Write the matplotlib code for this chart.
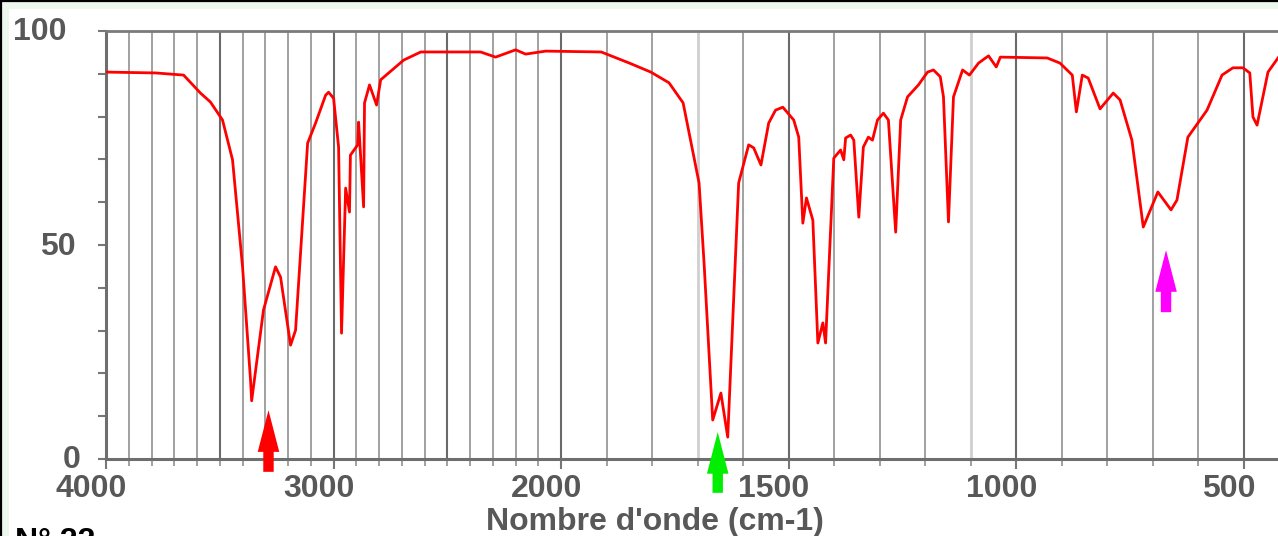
import numpy as np
import matplotlib
matplotlib.use("Agg")
import matplotlib.pyplot as plt
from matplotlib.ticker import FixedLocator, FixedFormatter, MultipleLocator
from matplotlib.transforms import ScaledTranslation
from matplotlib.lines import Line2D
from matplotlib.patches import Rectangle

# ---------------- data ----------------
wavenumber = [4000, 3782, 3659, 3585, 3541, 3488, 3444, 3400, 3365, 3360,
              3308, 3255, 3233, 3189, 3167, 3114, 3079, 3035, 3022, 3000,
              2978, 2965, 2947, 2930, 2926, 2894, 2890, 2868, 2864, 2842,
              2811, 2793, 2692, 2617, 2354, 2288, 2200, 2156, 2068, 1912,
              1850, 1803, 1763, 1732, 1697, 1686, 1667, 1649, 1634, 1610,
              1588, 1577, 1561, 1544, 1529, 1513, 1489, 1478, 1469, 1461,
              1447, 1436, 1425, 1419, 1401, 1386, 1379, 1375, 1364, 1357,
              1346, 1336, 1325, 1316, 1305, 1292, 1281, 1265, 1254, 1239,
              1215, 1195, 1182, 1167, 1160, 1149, 1138, 1118, 1103, 1083,
              1061, 1044, 1035, 932, 904, 877, 868, 855, 842, 816,
              787, 772, 746, 721, 689, 660, 647, 623, 581, 548,
              524, 502, 487, 480, 471, 447, 425]
transmittance = [90.4, 90.2, 89.7, 85.5, 83.4, 79.2, 69.9, 44.9, 18.5, 13.6,
                 34.8, 44.9, 42.5, 26.6, 30.1, 73.8, 78.5, 85.0, 85.7, 84.3,
                 72.9, 29.4, 63.3, 57.7, 71.0, 73.4, 78.7, 58.9, 83.2, 87.4,
                 82.7, 88.6, 93.2, 95.1, 95.1, 93.9, 95.6, 94.6, 95.3, 95.1,
                 92.5, 90.4, 87.9, 83.2, 64.5, 45.8, 9.1, 15.4, 5.1, 64.5,
                 73.4, 72.7, 68.7, 78.5, 81.5, 82.2, 79.2, 75.2, 55.1, 61.0,
                 55.8, 27.1, 31.8, 27.1, 70.3, 72.2, 69.9, 75.0, 75.7, 74.5,
                 56.5, 72.9, 75.2, 74.5, 79.2, 80.8, 79.2, 53.0, 79.2, 84.6,
                 87.4, 90.4, 90.9, 89.3, 84.6, 55.4, 84.6, 90.9, 89.7, 92.5,
                 94.2, 91.6, 93.9, 93.7, 92.5, 89.7, 81.1, 89.7, 89.0, 81.8,
                 85.5, 83.9, 74.5, 54.2, 62.4, 58.2, 60.5, 75.2, 81.5, 89.7,
                 91.4, 91.4, 90.2, 79.9, 78.0, 90.4, 93.7]

x_tick_values = [4000, 3000, 2000, 1500, 1000, 500]
x_tick_labels = ["4000", "3000", "2000", "1500", "1000", "500"]
y_tick_values = [100, 50, 0]
y_tick_labels = ["100", "50", "0"]
x_label = "Nombre d'onde (cm-1)"
corner_text = "N° 22"

# arrows: (wavenumber, tail value, tip value, colour)
arrow_wavenumbers = [3286, 1656, 671]
arrow_tails = [-3.0, -7.9, 34.3]
arrow_tips = [11.4, 6.3, 48.8]
arrow_colors = ["#ff0000", "#00ee00", "#ff00ff"]

# ---------------- figure ----------------
W, H = 1278, 536
fig = plt.figure(figsize=(W / 100, H / 100), dpi=100)
fig.patch.set_facecolor("white")

ax_left, ax_right, ax_top, ax_bottom = 106, 1278, 31, 459
ax = fig.add_axes([ax_left / W, 1 - ax_bottom / H,
                   (ax_right - ax_left) / W, (ax_bottom - ax_top) / H])


# piecewise-linear wavenumber scale (half scale above 2000 cm-1)
def fwd(w):
    w = np.asarray(w, dtype=float)
    return np.where(w >= 2000, 1000 + w / 2.0, w)


def inv(u):
    u = np.asarray(u, dtype=float)
    return np.where(u >= 2000, 2.0 * (u - 1000), u)


ax.set_xscale("function", functions=(fwd, inv))
ax.set_xlim(4000, 425)
ax.set_ylim(0, 100)

# grid lines
minor_x = list(range(500, 4000, 100))
ax.xaxis.set_major_locator(FixedLocator(x_tick_values))
ax.xaxis.set_major_formatter(FixedFormatter(x_tick_labels))
ax.xaxis.set_minor_locator(FixedLocator([m for m in minor_x if m not in x_tick_values]))
for m in minor_x + [4000]:
    if m in (1700, 1100):
        c, lw = "#cfcfcf", 2.0
    elif m % 500 == 0:
        c, lw = "#6a6a6a", 1.5
    else:
        c, lw = "#9a9a9a", 1.3
    ax.axvline(m, color=c, lw=lw, zorder=1)

ax.plot(wavenumber, transmittance, color="#ff0000", lw=2.0, zorder=3,
        solid_joinstyle="round")

# y ticks
ax.yaxis.set_major_locator(FixedLocator(y_tick_values))
ax.yaxis.set_minor_locator(MultipleLocator(10))
ax.set_yticklabels([])

label_color = "#585858"
FS = 23
font = dict(family="Liberation Sans", weight="bold", size=FS, color=label_color)

# y labels (positions as in reference)
fig.text(13 / W, 1 - 32 / H, y_tick_labels[0], ha="left", va="center", **font)
fig.text(76 / W, 1 - 247 / H, y_tick_labels[1], ha="right", va="center", **font)
fig.text(81 / W, 1 - 460 / H, y_tick_labels[2], ha="right", va="center", **font)

# x tick labels
ax.tick_params(axis="x", which="major", direction="out", length=7, width=1.5,
               color="#777777", pad=4, labelsize=FS, labelcolor=label_color)
ax.tick_params(axis="x", which="minor", direction="out", length=5, width=1.3,
               color="#999999")
ax.tick_params(axis="y", which="both", direction="out", length=6, width=1.5,
               color="#777777")
for lab in ax.get_xticklabels():
    lab.set_fontfamily("Liberation Sans")
    lab.set_fontweight("bold")
    lab.set_transform(lab.get_transform() + ScaledTranslation(-15 / 100, 0, fig.dpi_scale_trans))

ax.set_xlabel(x_label, fontfamily="Liberation Sans", fontweight="bold",
              fontsize=FS, color=label_color, labelpad=0)
ax.xaxis.set_label_coords((655 - ax_left) / (ax_right - ax_left), (459 - 522) / 428)
ax.xaxis.label.set_va("center")

# spines
for s in ("left", "bottom"):
    ax.spines[s].set_color("#6e6e6e")
    ax.spines[s].set_linewidth(2.2)
ax.spines["top"].set_color("#7a7a7a")
ax.spines["top"].set_linewidth(2.0)
ax.spines["right"].set_visible(False)

# arrows
for w, t0, t1, c in zip(arrow_wavenumbers, arrow_tails, arrow_tips, arrow_colors):
    ax.annotate("", xy=(w, t1), xytext=(w, t0), xycoords="data",
                textcoords="data", annotation_clip=False,
                arrowprops=dict(arrowstyle="simple,head_length=30,head_width=15.5,tail_width=7.5",
                                mutation_scale=1, color=c, shrinkA=0, shrinkB=0,
                                lw=0), zorder=5)

# corner text (cut off at the bottom of the picture, as in the reference)
fig.text(15 / W, 1 - 527 / H, corner_text, ha="left", va="top",
         family="Liberation Sans", weight="bold", size=FS, color="black")

# screenshot frame: black top/left lines and a pale green strip
fig.add_artist(Rectangle((0, 1 - 9 / H), 1, 7 / H, transform=fig.transFigure,
                         facecolor="#eef7ee", edgecolor="none", zorder=-1))
fig.add_artist(Rectangle((2 / W, 0), 7 / W, 1, transform=fig.transFigure,
                         facecolor="#eef7ee", edgecolor="none", zorder=-1))
fig.add_artist(Line2D([0, 1], [1 - 1 / H, 1 - 1 / H], transform=fig.transFigure,
                      color="black", lw=1.6))
fig.add_artist(Line2D([1 / W, 1 / W], [0, 1], transform=fig.transFigure,
                      color="black", lw=1.6))

fig.savefig("out.png", dpi=100, facecolor="white")
